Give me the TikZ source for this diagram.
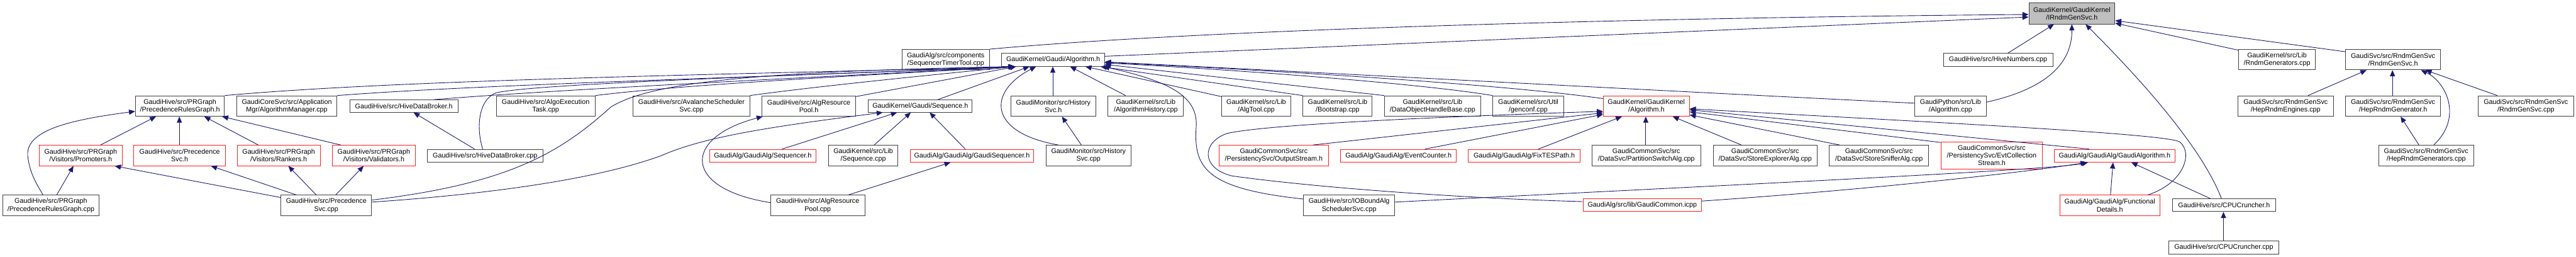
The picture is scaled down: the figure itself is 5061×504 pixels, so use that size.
\documentclass[tikz,border=0pt]{standalone}
\usepackage{fontspec}
\setmainfont{Liberation Sans}
\usetikzlibrary{arrows.meta}
\definecolor{edgecol}{HTML}{191970}
\definecolor{nodegray}{HTML}{404040}
\definecolor{rootgray}{HTML}{BFBFBF}
\definecolor{nred}{HTML}{FF2020}
\newcommand{\nfont}{\fontsize{13.3}{15}\selectfont}
\newcommand{\dnode}[7]{\node[#6,minimum width={(#4-(#2))*1pt},minimum height={(#5-(#3))*1pt}] (#1) at ({(#2+#4)/2},{(#3+#5)/2}) {#7};}
\tikzset{
  nb/.style={draw=nodegray, line width=1.2pt, fill=white, inner sep=0pt, align=center, font=\nfont, text=black},
  nr/.style={nb, draw=nred},
  nroot/.style={nb, fill=rootgray},
  lnk/.style={draw=edgecol, line width=1.1pt, {Triangle[length=12pt,width=10pt]}-}
}
\begin{document}
\begin{tikzpicture}[x=1pt,y=-1pt]
\useasboundingbox (0,0) rectangle (5061,504);
% nodes
\dnode{root}{3986}{6}{4155}{47}{nroot}{GaudiKernel/GaudiKernel\\/IRndmGenSvc.h}
\dnode{seqtt}{1772}{97}{1944}{137}{nb}{GaudiAlg/src/components\\/SequencerTimerTool.cpp}
\dnode{galg}{1968}{105}{2170}{130}{nb}{GaudiKernel/Gaudi/Algorithm.h}
\dnode{hivenum}{3818}{105}{4033}{130}{nb}{GaudiHive/src/HiveNumbers.cpp}
\dnode{rndmgen}{4398}{97}{4549}{137}{nb}{GaudiKernel/src/Lib\\/RndmGenerators.cpp}
\dnode{rgsh}{4608}{97}{4795}{137}{nb}{GaudiSvc/src/RndmGenSvc\\/RndmGenSvc.h}
\dnode{prgh}{266}{188}{441}{228}{nb}{GaudiHive/src/PRGraph\\/PrecedenceRulesGraph.h}
\dnode{algmgr}{465}{188}{662}{228}{nb}{GaudiCoreSvc/src/Application\\Mgr/AlgorithmManager.cpp}
\dnode{hdbh}{687}{196}{900}{220}{nb}{GaudiHive/src/HiveDataBroker.h}
\dnode{aet}{975}{188}{1169}{228}{nb}{GaudiHive/src/AlgoExecution\\Task.cpp}
\dnode{avs}{1244}{188}{1473}{228}{nb}{GaudiHive/src/AvalancheScheduler\\Svc.cpp}
\dnode{arph}{1497}{188}{1681}{228}{nb}{GaudiHive/src/AlgResource\\Pool.h}
\dnode{seqh}{1706}{196}{1910}{220}{nb}{GaudiKernel/Gaudi/Sequence.h}
\dnode{histh}{1986}{188}{2153}{228}{nb}{GaudiMonitor/src/History\\Svc.h}
\dnode{alghist}{2177}{188}{2325}{228}{nb}{GaudiKernel/src/Lib\\/AlgorithmHistory.cpp}
\dnode{algtool}{2400}{188}{2536}{228}{nb}{GaudiKernel/src/Lib\\/AlgTool.cpp}
\dnode{boot}{2560}{188}{2696}{228}{nb}{GaudiKernel/src/Lib\\/Bootstrap.cpp}
\dnode{dohb}{2720}{188}{2909}{228}{nb}{GaudiKernel/src/Lib\\/DataObjectHandleBase.cpp}
\dnode{genconf}{2933}{188}{3072}{228}{nb}{GaudiKernel/src/Util\\/genconf.cpp}
\dnode{gkalg}{3150}{188}{3319}{228}{nr}{GaudiKernel/GaudiKernel\\/Algorithm.h}
\dnode{pyalg}{3762}{188}{3902}{228}{nb}{GaudiPython/src/Lib\\/Algorithm.cpp}
\dnode{hre}{4397}{188}{4584}{228}{nb}{GaudiSvc/src/RndmGenSvc\\/HepRndmEngines.cpp}
\dnode{hrgh}{4608}{188}{4795}{228}{nb}{GaudiSvc/src/RndmGenSvc\\/HepRndmGenerator.h}
\dnode{rgscpp}{4869}{188}{5056}{228}{nb}{GaudiSvc/src/RndmGenSvc\\/RndmGenSvc.cpp}
\dnode{prom}{77}{285}{240}{325}{nr}{GaudiHive/src/PRGraph\\/Visitors/Promoters.h}
\dnode{psvch}{263}{285}{443}{325}{nr}{GaudiHive/src/Precedence\\Svc.h}
\dnode{rank}{466}{285}{629}{325}{nr}{GaudiHive/src/PRGraph\\/Visitors/Rankers.h}
\dnode{valid}{653}{285}{816}{325}{nr}{GaudiHive/src/PRGraph\\/Visitors/Validators.h}
\dnode{hdbcpp}{839}{293}{1067}{318}{nb}{GaudiHive/src/HiveDataBroker.cpp}
\dnode{seqr}{1394}{293}{1603}{318}{nr}{GaudiAlg/GaudiAlg/Sequencer.h}
\dnode{libseq}{1628}{285}{1764}{325}{nb}{GaudiKernel/src/Lib\\/Sequence.cpp}
\dnode{gseq}{1788}{293}{2031}{318}{nr}{GaudiAlg/GaudiAlg/GaudiSequencer.h}
\dnode{histcpp}{2055}{285}{2222}{325}{nb}{GaudiMonitor/src/History\\Svc.cpp}
\dnode{outs}{2395}{285}{2610}{325}{nr}{GaudiCommonSvc/src\\/PersistencySvc/OutputStream.h}
\dnode{evc}{2634}{293}{2861}{318}{nr}{GaudiAlg/GaudiAlg/EventCounter.h}
\dnode{fix}{2885}{293}{3104}{318}{nr}{GaudiAlg/GaudiAlg/FixTESPath.h}
\dnode{psa}{3128}{285}{3341}{325}{nb}{GaudiCommonSvc/src\\/DataSvc/PartitionSwitchAlg.cpp}
\dnode{sea}{3366}{285}{3570}{325}{nb}{GaudiCommonSvc/src\\/DataSvc/StoreExplorerAlg.cpp}
\dnode{ssa}{3594}{285}{3789}{325}{nb}{GaudiCommonSvc/src\\/DataSvc/StoreSnifferAlg.cpp}
\dnode{ecs}{3813}{278}{4013}{332}{nr}{GaudiCommonSvc/src\\/PersistencySvc/EvtCollection\\Stream.h}
\dnode{galgh}{4036}{293}{4273}{318}{nr}{GaudiAlg/GaudiAlg/GaudiAlgorithm.h}
\dnode{hrgcpp}{4673}{285}{4860}{325}{nb}{GaudiSvc/src/RndmGenSvc\\/HepRndmGenerators.cpp}
\dnode{prgcpp}{5}{383}{195}{423}{nb}{GaudiHive/src/PRGraph\\/PrecedenceRulesGraph.cpp}
\dnode{psvccpp}{552}{383}{730}{423}{nb}{GaudiHive/src/Precedence\\Svc.cpp}
\dnode{arpcpp}{1514}{383}{1699}{423}{nb}{GaudiHive/src/AlgResource\\Pool.cpp}
\dnode{iob}{2561}{383}{2740}{423}{nb}{GaudiHive/src/IOBoundAlg\\SchedulerSvc.cpp}
\dnode{gcom}{3110}{390}{3343}{415}{nr}{GaudiAlg/src/lib/GaudiCommon.icpp}
\dnode{func}{4047}{383}{4243}{423}{nr}{GaudiAlg/GaudiAlg/Functional\\Details.h}
\dnode{cpuh}{4268}{390}{4471}{415}{nb}{GaudiHive/src/CPUCruncher.h}
\dnode{cpucpp}{4261}{473}{4477}{498}{nb}{GaudiHive/src/CPUCruncher.cpp}
% edges into root
\draw[lnk] ([yshift=-23pt]root.north west) .. controls (3300,34) and (2400,55) .. (seqtt.north east);
\draw[lnk] ([yshift=-28pt]root.north west) -- ([yshift=-6pt]galg.north east);
\draw[lnk] ([xshift=50pt]root.south west) -- ([xshift=127pt]hivenum.north west);
\draw[lnk] ([xshift=85pt]root.south west) .. controls (4071,110) and (4040,170) .. ([yshift=-13pt]pyalg.north east);
\draw[lnk] ([xshift=112pt]root.south west) .. controls (4230,180) and (4330,300) .. ([xshift=97pt]cpuh.north west);
\draw[lnk] ([yshift=-35pt]root.north east) -- ([yshift=-5pt]rgsh.north west);
\draw[lnk] ([yshift=-40pt]root.north east) -- ([yshift=-2pt]rndmgen.north west);
% RndmGenSvc.h
\draw[lnk] ([xshift=42pt]rgsh.south west) -- ([xshift=138pt]hre.north west);
\draw[lnk] ([xshift=93pt]rgsh.south west) -- ([xshift=93pt]hrgh.north west);
\draw[lnk] ([xshift=149pt]rgsh.south west) .. controls (4805,160) and (4840,230) .. ([xshift=109pt]hrgcpp.north west);
\draw[lnk] ([xshift=158pt]rgsh.south west) -- ([xshift=38pt]rgscpp.north west);
\draw[lnk] ([xshift=109pt]hrgh.south west) -- ([xshift=80pt]hrgcpp.north west);
% Gaudi/Algorithm.h from the left
\draw[lnk] ([xshift=27pt]galg.south west) .. controls (1500,145) and (800,155) .. (prgh.north east);
\draw[lnk] ([xshift=27pt]galg.south west) .. controls (1550,150) and (950,165) .. (algmgr.north east);
\draw[lnk] ([xshift=27pt]galg.south west) .. controls (1600,152) and (1100,175) .. ([xshift=166pt]hdbh.north west);
\draw[lnk] ([xshift=27pt]galg.south west) .. controls (1500,150) and (1050,165) .. (975,182) .. controls (940,195) and (935,250) .. ([xshift=110pt]hdbcpp.north west);
\draw[lnk] ([xshift=27pt]galg.south west) .. controls (1700,148) and (1350,165) .. (aet.north east);
\draw[lnk] ([xshift=27pt]galg.south west) .. controls (1800,150) and (1600,170) .. (avs.north east);
\draw[lnk] ([xshift=29pt]galg.south west) -- ([yshift=-2pt]arph.north east);
\draw[lnk] ([xshift=25pt]galg.south west) .. controls (1500,140) and (1280,160) .. (1200,210) .. controls (1100,300) and (1000,360) .. ([yshift=-10pt]psvccpp.north east);
\draw[lnk] ([xshift=55pt]galg.south west) -- ([xshift=137pt]seqh.north west);
\draw[lnk] ([xshift=68pt]galg.south west) .. controls (1940,180) and (1940,260) .. ([xshift=25pt]histcpp.north west);
\draw[lnk] ([xshift=101pt]galg.south west) -- ([xshift=83pt]histh.north west);
% Sequence.h
\draw[lnk] ([xshift=29pt]seqh.south west) .. controls (1500,250) and (1380,270) .. (1300,305) .. controls (1150,360) and (900,385) .. ([yshift=-14pt]psvccpp.north east);
\draw[lnk] ([xshift=57pt]seqh.south west) -- ([xshift=143pt]seqr.north west);
\draw[lnk] ([xshift=84pt]seqh.south west) -- ([xshift=90pt]libseq.north west);
\draw[lnk] ([xshift=121pt]seqh.south west) -- ([xshift=109pt]gseq.north west);
\draw[lnk] ([xshift=80pt]gseq.south west) -- ([xshift=153pt]arpcpp.north west);
\draw[lnk] ([xshift=2pt]arph.south west) .. controls (1340,270) and (1340,370) .. ([yshift=-15pt]arpcpp.north west);
\draw[lnk] ([xshift=101pt]histh.south west) -- ([xshift=70pt]histcpp.north west);
% Gaudi/Algorithm.h from the right
\draw[lnk] ([xshift=135pt]galg.south west) -- ([xshift=35pt]alghist.north west);
\draw[lnk] ([xshift=165pt]galg.south west) -- ([yshift=-2pt]algtool.north west);
\draw[lnk] ([xshift=195pt]galg.south west) -- (boot.north west);
\draw[lnk] ([yshift=-22pt]galg.north east) -- (dohb.north west);
\draw[lnk] ([yshift=-19pt]galg.north east) .. controls (2450,138) and (2800,165) .. (genconf.north west);
\draw[lnk] ([yshift=-18pt]galg.north east) .. controls (2500,138) and (2950,165) .. ([yshift=-6pt]gkalg.north west);
\draw[lnk] ([yshift=-17pt]galg.north east) .. controls (2550,140) and (3300,180) .. ([yshift=-15pt]pyalg.north west);
\draw[lnk] ([xshift=-3pt]galg.south east) .. controls (2300,160) and (2355,190) .. (2350,250) .. controls (2345,330) and (2370,370) .. ([yshift=-8pt]iob.north west);
% GaudiKernel/Algorithm.h
\draw[lnk] ([yshift=-34pt]gkalg.north west) -- ([xshift=185pt]outs.north west);
\draw[lnk] ([yshift=-31pt]gkalg.north west) .. controls (2800,230) and (2480,245) .. (2410,262) .. controls (2360,280) and (2360,330) .. (2420,345) .. controls (2600,370) and (2900,390) .. ([yshift=-6pt]gcom.north west);
\draw[lnk] ([yshift=-37pt]gkalg.north west) -- ([xshift=166pt]evc.north west);
\draw[lnk] ([xshift=37pt]gkalg.south west) -- ([xshift=138pt]fix.north west);
\draw[lnk] ([xshift=84pt]gkalg.south west) -- ([xshift=106pt]psa.north west);
\draw[lnk] ([xshift=137pt]gkalg.south west) -- ([xshift=56pt]sea.north west);
\draw[lnk] ([yshift=-38pt]gkalg.north east) -- ([xshift=21pt]ssa.north west);
\draw[lnk] ([yshift=-32pt]gkalg.north east) -- ([yshift=-2pt]ecs.north west);
\draw[lnk] ([yshift=-28pt]gkalg.north east) -- ([xshift=69pt]galgh.north west);
\draw[lnk] ([yshift=-26pt]gkalg.north east) .. controls (3800,240) and (4250,262) .. (4282,278) .. controls (4310,300) and (4290,360) .. ([xshift=173pt]func.north west);
% GaudiAlgorithm.h
\draw[lnk] ([xshift=67pt]galgh.south west) .. controls (4030,333) and (3500,358) .. ([yshift=-14pt]iob.north east);
\draw[lnk] ([xshift=64pt]galgh.south west) .. controls (4000,335) and (3700,370) .. ([yshift=-5pt]gcom.north east);
\draw[lnk] ([xshift=116pt]galgh.south west) -- ([xshift=100pt]func.north west);
\draw[lnk] ([xshift=152pt]galgh.south west) -- ([xshift=75pt]cpuh.north west);
\draw[lnk] ([xshift=101pt]cpuh.south west) -- ([xshift=108pt]cpucpp.north west);
% PrecedenceRulesGraph.h group
\draw[lnk] ([yshift=-31pt]prgh.north west) .. controls (140,235) and (45,255) .. (55,310) .. controls (60,345) and (75,365) .. ([xshift=80pt]prgcpp.north west);
\draw[lnk] ([xshift=41pt]prgh.south west) -- ([xshift=121pt]prom.north west);
\draw[lnk] ([xshift=87pt]prgh.south west) -- ([xshift=90pt]psvch.north west);
\draw[lnk] ([xshift=136pt]prgh.south west) -- ([xshift=42pt]rank.north west);
\draw[lnk] ([xshift=171pt]prgh.south west) -- ([xshift=17pt]valid.north west);
\draw[lnk] ([xshift=68pt]prom.south west) -- ([xshift=107pt]prgcpp.north west);
\draw[lnk] ([xshift=149pt]prom.south west) -- ([yshift=-5pt]psvccpp.north west);
\draw[lnk] ([xshift=152pt]psvch.south west) -- ([xshift=31pt]psvccpp.north west);
\draw[lnk] ([xshift=101pt]rank.south west) -- ([xshift=70pt]psvccpp.north west);
\draw[lnk] ([xshift=62pt]valid.south west) -- ([xshift=108pt]psvccpp.north west);
\draw[lnk] ([xshift=126pt]hdbh.south west) -- ([xshift=94pt]hdbcpp.north west);
\end{tikzpicture}
\end{document}
